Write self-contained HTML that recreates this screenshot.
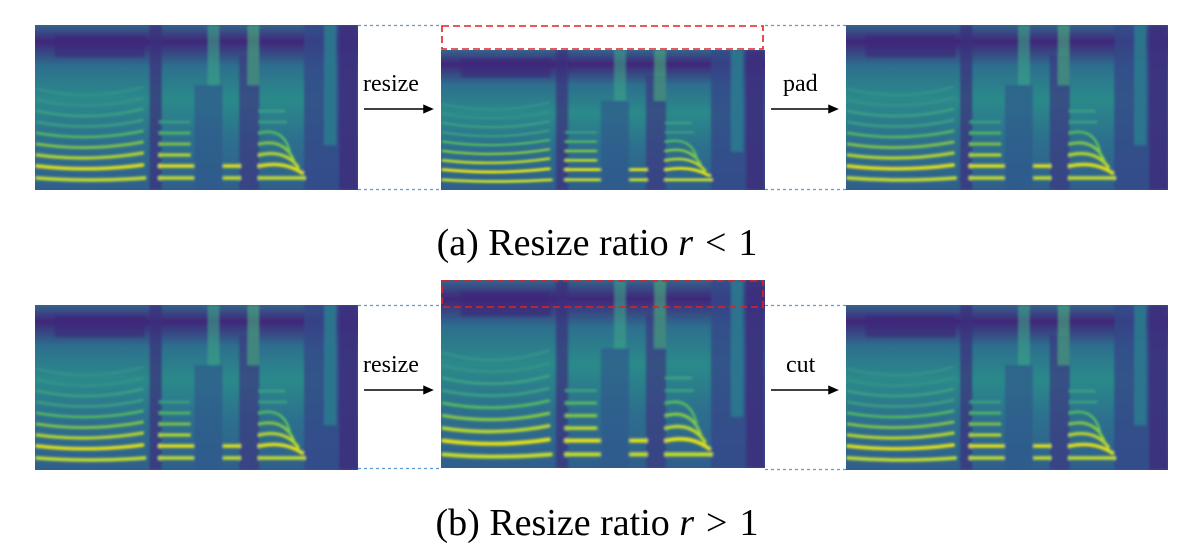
<!DOCTYPE html>
<html><head><meta charset="utf-8"><style>
body{margin:0;width:1194px;height:551px;background:#fff;position:relative;overflow:hidden;font-family:"Liberation Serif",serif}
svg.s{position:absolute}
.t{position:absolute;font-size:24px;color:#000;line-height:1}
.cap{position:absolute;font-size:38px;width:1194px;text-align:center;left:0;line-height:1}
.cap i{font-style:italic}
.cap b{font-weight:normal;margin:0 12px}
</style></head><body>
<svg width="0" height="0" style="position:absolute">
<defs>
<linearGradient id="bg" x1="0" y1="0" x2="0" y2="1">
<stop offset="0" stop-color="#33648c"/><stop offset="0.1" stop-color="#40267a"/><stop offset="0.25" stop-color="#2d6f8e"/><stop offset="0.45" stop-color="#2a8a8a"/><stop offset="0.7" stop-color="#2d6f8e"/><stop offset="1" stop-color="#2f5f8c"/>
</linearGradient>
<filter id="bl"><feGaussianBlur stdDeviation="1.2"/></filter>
<symbol id="spec" viewBox="0 0 324 165" preserveAspectRatio="none">
<rect width="324" height="165" fill="url(#bg)"/>
<g filter="url(#bl)">
<rect x="115" y="0" width="12" height="165" fill="#3c2f7c" opacity=".7"/>
<rect x="160" y="60" width="28" height="105" fill="#31588c" opacity=".7"/>
<rect x="205" y="30" width="20" height="135" fill="#3a3880" opacity=".7"/>
<rect x="270" y="0" width="54" height="165" fill="#35488a" opacity=".8"/>
<rect x="290" y="0" width="12" height="120" fill="#2a7f8e" opacity=".8"/>
<rect x="305" y="0" width="19" height="165" fill="#3f2a7a" opacity=".7"/>
<rect x="173" y="0" width="12" height="60" fill="#3aa487" opacity=".6"/>
<rect x="213" y="0" width="12" height="60" fill="#47b07c" opacity=".6"/>
<rect x="20" y="10" width="90" height="22" fill="#3b2a78" opacity=".6"/>
<g fill="none" stroke-linecap="round">
<g stroke="#c8e02a" stroke-width="3.5"><path d="M2 153Q55 157 110 153M125 153H158M190 153H205M225 153H270"/></g>
<g stroke="#e6e419" stroke-width="3.5"><path d="M2 141Q55 147 108 140M125 141H158M190 141H205M225 141Q250 136 268 148"/></g>
<g stroke="#c2de28" stroke-width="3"><path d="M2 130Q55 137 108 128M125 130H155M225 130Q250 124 264 142"/></g>
<g stroke="#8fd23e" stroke-width="2.6"><path d="M2 119Q55 127 108 117M125 119H155M225 119Q250 113 260 136"/></g>
<g stroke="#5cc45a" stroke-width="2.3"><path d="M2 108Q55 117 108 106M125 108H155M225 108Q250 102 256 128"/></g>
<g stroke="#40a880" stroke-width="2"><path d="M2 97Q55 107 108 95M125 97H155M225 97H252M2 86Q55 97 108 84M225 86H250"/></g>
<g stroke="#38958a" stroke-width="1.8"><path d="M2 75Q55 87 108 73M2 64Q55 77 108 62"/></g>
</g>
</g>
</symbol>
</defs>
</svg>

<svg class="s" style="left:35px;top:25px" width="323" height="165"><use href="#spec" width="323" height="165"/></svg>
<svg class="s" style="left:441px;top:50px" width="324" height="140"><use href="#spec" width="324" height="140"/></svg>
<svg class="s" style="left:846px;top:25px" width="322" height="165"><use href="#spec" width="322" height="165"/></svg>
<svg class="s" style="left:35px;top:305px" width="323" height="165"><use href="#spec" width="323" height="165"/></svg>
<svg class="s" style="left:441px;top:280px" width="324" height="188"><use href="#spec" width="324" height="188"/></svg>
<svg class="s" style="left:846px;top:305px" width="322" height="165"><use href="#spec" width="322" height="165"/></svg>

<svg class="s" style="left:0;top:0" width="1194" height="551">
<g stroke="#5b9bd5" stroke-width="1.3" stroke-dasharray="3,3">
<path d="M358 25.5H441M358 189.5H441M765 25.5H846M765 189.5H846"/>
<path d="M358 305.5H441M358 468.5H441M765 305.5H846M765 469.5H846"/>
</g>
<g stroke="#e32020" stroke-width="1.6" stroke-dasharray="7,4" fill="none">
<rect x="442" y="26" width="321" height="23"/>
<rect x="442" y="281" width="321" height="26"/>
</g>
<g stroke="#000" stroke-width="1.5" fill="#000">
<path d="M364 109H425"/><path d="M432 109L424 105.5V112.5Z"/>
<path d="M771 109H830"/><path d="M837 109L829 105.5V112.5Z"/>
<path d="M364 390H425"/><path d="M432 390L424 386.5V393.5Z"/>
<path d="M771 390H830"/><path d="M837 390L829 386.5V393.5Z"/>
</g>
</svg>
<div class="t" style="left:363px;top:72px">resize</div>
<div class="t" style="left:783px;top:72px">pad</div>
<div class="t" style="left:363px;top:353px">resize</div>
<div class="t" style="left:786px;top:353px">cut</div>
<div class="cap" style="top:224px">(a) Resize ratio <i>r</i><b>&lt;</b>1</div>
<div class="cap" style="top:504px">(b) Resize ratio <i>r</i><b>&gt;</b>1</div>
</body></html>
